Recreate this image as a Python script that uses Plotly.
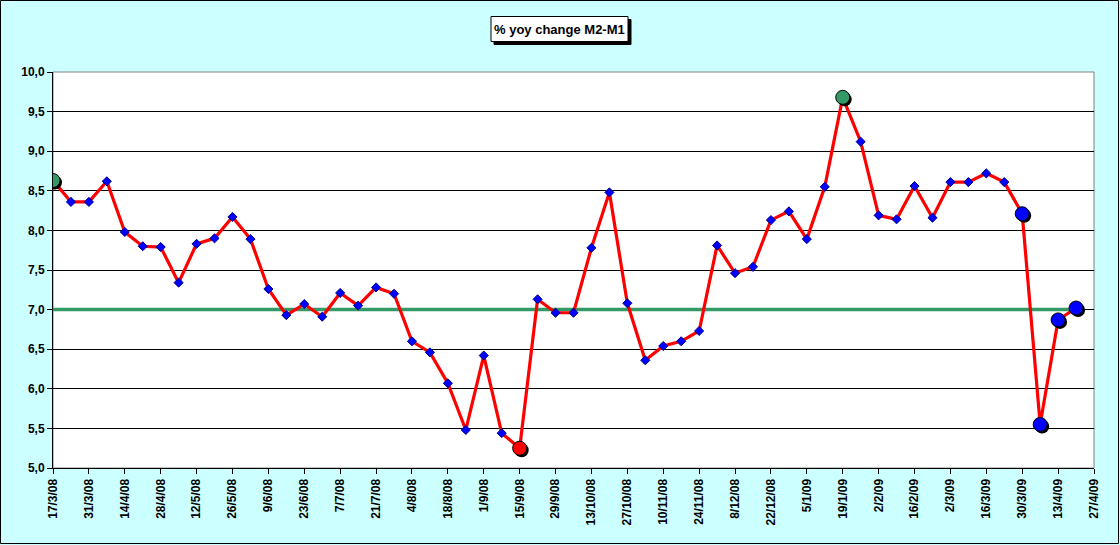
import pandas as pd
import plotly.graph_objects as go

# weekly observations, 17/3/08 .. 20/4/09
start_date = "2008-03-17"
values = [8.63, 8.36, 8.36, 8.62, 7.98, 7.80, 7.79, 7.34, 7.83, 7.90,
          8.17, 7.89, 7.26, 6.93, 7.07, 6.91, 7.21, 7.05, 7.28, 7.20,
          6.60, 6.46, 6.07, 5.48, 6.42, 5.44, 5.25, 7.13, 6.96, 6.96,
          7.78, 8.48, 7.08, 6.36, 6.54, 6.60, 6.73, 7.81, 7.46, 7.54,
          8.13, 8.24, 7.89, 8.55, 9.68, 9.12, 8.19, 8.14, 8.56, 8.16,
          8.61, 8.61, 8.72, 8.61, 8.21, 5.55, 6.87, 7.02]
threshold = 7.0
green_idx = [0, 44]
red_idx = [26]
blue_idx = [54, 55, 56, 57]
y_ticks = [5.0, 5.5, 6.0, 6.5, 7.0, 7.5, 8.0, 8.5, 9.0, 9.5, 10.0]
tick_end = "2009-04-27"

dates = pd.date_range(start_date, periods=len(values), freq="7D")
tick_dates = pd.date_range(start_date, tick_end, freq="14D")
tick_text = [f"{d.day}/{d.month}/{d:%y}" for d in tick_dates]
y_text = [f"{v:.1f}".replace(".", ",") for v in y_ticks]

W, H = 1120, 545
ML, MR, MT, MB = 53, 26, 72, 77
pw, ph = W - ML - MR, H - MT - MB

# pixel -> data conversion for the marker shadows
x_span = (tick_dates[-1] - tick_dates[0])
y_span = y_ticks[-1] - y_ticks[0]
dx = x_span * (2 / pw)
dy = -y_span * (2 / ph)

FONT = "Arial, Liberation Sans, sans-serif"


def px_x(p):
    return (p - ML) / pw


def px_y(p):
    return (MT + ph - p) / ph


fig = go.Figure()

fig.add_trace(go.Scatter(
    x=dates, y=[threshold] * len(dates), mode="lines",
    line=dict(color="#339966", width=3.5), hoverinfo="skip"))

fig.add_trace(go.Scatter(
    x=dates, y=values, mode="lines+markers",
    line=dict(color="#FF0000", width=3.2),
    marker=dict(symbol="diamond", size=7, color="#0000FF",
                line=dict(color="#000080", width=1))))


def highlight(idx, color):
    xs = [dates[i] for i in idx]
    ys = [values[i] for i in idx]
    # shadow
    fig.add_trace(go.Scatter(
        x=[x + dx for x in xs], y=[y + dy for y in ys], mode="markers",
        marker=dict(symbol="circle", size=14, color="#000000"),
        hoverinfo="skip"))
    fig.add_trace(go.Scatter(
        x=xs, y=ys, mode="markers",
        marker=dict(symbol="circle", size=14, color=color,
                    line=dict(color="#000000", width=1))))


highlight(green_idx, "#339966")
highlight(red_idx, "#FF0000")
highlight(blue_idx, "#0000FF")

# plot area border (grey) and outer chart border (black)
fig.add_shape(type="rect", xref="paper", yref="paper", x0=0, x1=1, y0=0, y1=1,
              line=dict(color="#808080", width=1), layer="below")
fig.add_shape(type="rect", xref="paper", yref="paper",
              x0=px_x(0.5), x1=px_x(W - 1.5), y0=px_y(H - 1.5), y1=px_y(0.5),
              line=dict(color="#000000", width=1))

# title box with drop shadow
fig.add_shape(type="rect", xref="paper", yref="paper",
              x0=px_x(494), x1=px_x(631), y0=px_y(44.5), y1=px_y(19.5),
              fillcolor="#000000", line=dict(color="#000000", width=1))
fig.add_shape(type="rect", xref="paper", yref="paper",
              x0=px_x(491), x1=px_x(628), y0=px_y(41.5), y1=px_y(16.5),
              fillcolor="#FFFFFF", line=dict(color="#000000", width=1))
fig.add_annotation(
    x=px_x(559.5), y=px_y(29), xref="paper", yref="paper",
    xanchor="center", yanchor="middle",
    text="<b>% yoy change M2-M1</b>", showarrow=False,
    font=dict(family=FONT, size=13, color="#000000"))

fig.update_layout(
    width=W, height=H,
    margin=dict(l=ML, r=MR, t=MT, b=MB),
    paper_bgcolor="#CCFFFF", plot_bgcolor="#FFFFFF",
    showlegend=False,
    font=dict(family=FONT, size=12, color="#000000"),
)

fig.update_xaxes(
    range=[tick_dates[0], tick_dates[-1]],
    tickvals=tick_dates, ticktext=[f"<b>{t}</b>" for t in tick_text],
    tickangle=-90, ticks="outside", ticklen=5, tickcolor="#000000",
    showline=True, linecolor="#000000", linewidth=1,
    showgrid=False, zeroline=False,
    tickfont=dict(family=FONT, size=12, color="#000000"),
)

fig.update_yaxes(
    range=[y_ticks[0], y_ticks[-1]],
    tickvals=y_ticks, ticktext=[f"<b>{t}</b>" for t in y_text],
    ticks="outside", ticklen=5, tickcolor="#000000",
    showline=True, linecolor="#000000", linewidth=1,
    showgrid=True, gridcolor="#000000", gridwidth=1, zeroline=False,
    tickfont=dict(family=FONT, size=12, color="#000000"),
)

fig.write_html("out.html", config={"displayModeBar": False},
               post_script="document.body.style.margin = '0';")
